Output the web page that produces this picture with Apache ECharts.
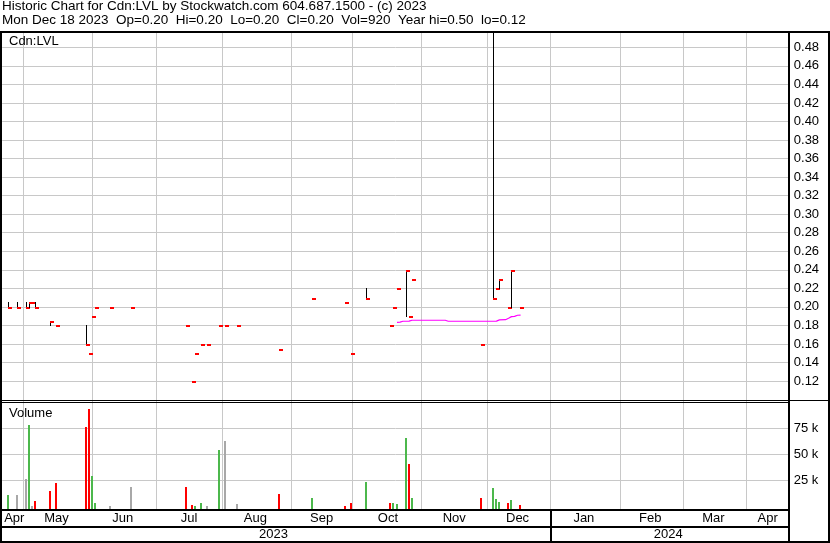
<!DOCTYPE html>
<html>
<head>
<meta charset="utf-8">
<script src="https://cdn.jsdelivr.net/npm/echarts@6/dist/echarts.min.js"></script>
<style>
html,body{margin:0;padding:0;background:#fff;}
#chart{width:830px;height:543px;}
</style>
</head>
<body>
<div id="chart"></div>
<script>
// ---------- data ----------
const titleLine1 = 'Historic Chart for Cdn:LVL by Stockwatch.com 604.687.1500 - (c) 2023';
const titleLine2 = 'Mon Dec 18 2023  Op=0.20  Hi=0.20  Lo=0.20  Cl=0.20  Vol=920  Year hi=0.50  lo=0.12';
const symbolLabel = 'Cdn:LVL';
const volumeLabel = 'Volume';

const axisStart = '2023-04-20';
const axisEnd = '2024-04-19';

const tradeDates = ['2023-04-24','2023-04-27','2023-05-02','2023-05-03','2023-05-04','2023-05-05','2023-05-12','2023-05-16','2023-05-30','2023-05-31',
  '2023-06-01','2023-06-02','2023-06-09','2023-06-20','2023-07-14','2023-07-18','2023-07-19','2023-07-21','2023-07-25','2023-07-31',
  '2023-08-02','2023-08-08','2023-08-28','2023-09-12','2023-09-27','2023-09-29','2023-10-06','2023-10-18','2023-10-19','2023-10-20',
  '2023-10-25','2023-10-26','2023-10-27','2023-11-29','2023-12-05','2023-12-06','2023-12-07','2023-12-12','2023-12-13','2023-12-18'];
const highs = [0.205,0.205,0.205,0.205,0.205,0.205,0.185,0.18,0.18,0.15,
  0.19,0.20,0.20,0.20,0.18,0.12,0.15,0.16,0.16,0.18,
  0.18,0.18,0.155,0.21,0.205,0.15,0.22,0.18,0.20,0.22,
  0.24,0.19,0.23,0.16,0.50,0.22,0.23,0.20,0.24,0.20];
const lows = [0.20,0.20,0.20,0.20,0.205,0.20,0.18,0.18,0.16,0.15,
  0.19,0.20,0.20,0.20,0.18,0.12,0.15,0.16,0.16,0.18,
  0.18,0.18,0.155,0.21,0.205,0.15,0.21,0.18,0.20,0.22,
  0.19,0.19,0.23,0.16,0.21,0.22,0.22,0.20,0.20,0.20];
const closes = [0.20,0.20,0.20,0.205,0.205,0.20,0.185,0.18,0.16,0.15,
  0.19,0.20,0.20,0.20,0.18,0.12,0.15,0.16,0.16,0.18,
  0.18,0.18,0.155,0.21,0.205,0.15,0.21,0.18,0.20,0.22,
  0.24,0.19,0.23,0.16,0.21,0.22,0.23,0.20,0.24,0.20];
const volumes = [10900,10900,26300,78200,600,5100,14700,22400,76300,93600,
  29100,3200,500,18600,18600,1300,500,3200,200,54100,
  62800,2200,11800,8000,300,3200,23400,3200,3200,2200,
  65700,40700,8000,8000,17600,7000,4100,3200,6100,920];
const volDir = ['u','n','n','u','n','d','d','d','d','d',
  'u','u','n','n','d','d','u','u','n','u',
  'n','n','d','u','d','d','u','d','u','u',
  'u','d','u','d','u','u','u','d','u','d'];

const maDates = ['2023-10-20','2023-10-23','2023-10-24','2023-10-26','2023-10-27','2023-11-13','2023-11-14','2023-12-06','2023-12-07','2023-12-11','2023-12-12','2023-12-13','2023-12-14','2023-12-15','2023-12-18'];
const maValues = [0.1834,0.1836,0.1845,0.1846,0.1856,0.1856,0.1845,0.1846,0.1860,0.1862,0.1877,0.1895,0.1898,0.1910,0.1912];

const priceTicks = [0.12,0.14,0.16,0.18,0.20,0.22,0.24,0.26,0.28,0.30,0.32,0.34,0.36,0.38,0.40,0.42,0.44,0.46,0.48];
const volumeTicks = [25000,50000,75000];
const monthGridDates = ['2023-05-01','2023-06-01','2023-06-30','2023-08-01','2023-09-01','2023-09-29','2023-11-01','2023-12-01','2024-01-01','2024-02-01','2024-03-01','2024-04-01'];
const monthLabels = ['Apr','May','Jun','Jul','Aug','Sep','Oct','Nov','Dec','Jan','Feb','Mar','Apr'];
const monthLabelDates = ['2023-04-26','2023-05-16','2023-06-15','2023-07-17','2023-08-16','2023-09-15','2023-10-17','2023-11-16','2023-12-15','2024-01-16','2024-02-15','2024-03-15','2024-04-10'];
const yearLabels = ['2023','2024'];
const yearLabelDates = ['2023-08-24','2024-02-23'];
const yearBreakDates = ['2024-01-01'];

// ---------- helpers ----------
function weekdayList(a, b) {
  const out = [];
  let d = new Date(a + 'T00:00:00Z');
  const e = new Date(b + 'T00:00:00Z');
  while (d <= e) {
    const w = d.getUTCDay();
    if (w !== 0 && w !== 6) out.push(d.toISOString().slice(0, 10));
    d = new Date(d.getTime() + 86400000);
  }
  return out;
}
const categories = weekdayList(axisStart, axisEnd);

const FONT = 'Liberation Sans, Arial, sans-serif';
const GRID_COLOR = '#c8c8c8';
const volColors = {u: '#4cb84c', d: '#ff0000', n: '#a8a8a8'};

function renderPrice(params, api) {
  const i = api.value(0);
  const pHi = api.coord([i, api.value(1)]);
  const pLo = api.coord([i, api.value(2)]);
  const pCl = api.coord([i, api.value(3)]);
  const col = Math.floor(pCl[0]);
  const children = [];
  const yh = Math.round(pHi[1]), yl = Math.round(pLo[1]);
  if (yl - yh >= 1) {
    children.push({type: 'rect', shape: {x: col, y: yh, width: 1, height: yl - yh + 1}, style: {fill: '#000'}});
  }
  children.push({type: 'rect', shape: {x: col, y: Math.round(pCl[1]), width: 4, height: 2}, style: {fill: '#ff0000'}});
  return {type: 'group', children};
}

function renderVolume(params, api) {
  const i = api.value(0);
  const top = api.coord([i, api.value(1)]);
  const col = Math.floor(top[0]);
  const bottom = params.coordSys.y + params.coordSys.height;
  const y = Math.round(top[1]);
  return {type: 'rect', shape: {x: col - 1, y: y, width: 2, height: bottom - y},
          style: {fill: volColors[volDir[params.dataIndex]]}};
}

const GL = 2.2, GW = 786.6;
const baseX = {type: 'category', data: categories, boundaryGap: false,
  axisLine: {show: false}, axisTick: {show: false}};

const chart = echarts.init(document.getElementById('chart'), null, {renderer: 'canvas'});
chart.setOption({
  animation: false,
  backgroundColor: '#ffffff',
  grid: [
    {left: GL, top: 32, width: GW, height: 369, containLabel: false, outerBoundsMode: 'none', show: false},
    {left: GL, top: 401, width: GW, height: 109, containLabel: false, outerBoundsMode: 'none', show: false},
    {left: GL, top: 510, width: GW, height: 32, containLabel: false, outerBoundsMode: 'none', show: false}
  ],
  xAxis: [
    Object.assign({}, baseX, {gridIndex: 0, axisLabel: {show: false},
      splitLine: {show: true, interval: (i, v) => monthGridDates.includes(v), lineStyle: {color: GRID_COLOR, width: 1}}}),
    Object.assign({}, baseX, {gridIndex: 1,
      axisLabel: {show: true, interval: (i, v) => monthLabelDates.includes(v),
        formatter: v => monthLabels[monthLabelDates.indexOf(v)], margin: 2,
        fontSize: 13, color: '#000', fontFamily: FONT},
      splitLine: {show: true, interval: (i, v) => monthGridDates.includes(v), lineStyle: {color: GRID_COLOR, width: 1}}}),
    Object.assign({}, baseX, {gridIndex: 2,
      axisLabel: {show: true, inside: true, interval: (i, v) => yearLabelDates.includes(v),
        formatter: v => yearLabels[yearLabelDates.indexOf(v)], margin: 1,
        fontSize: 13, color: '#000', fontFamily: FONT},
      splitLine: {show: true, interval: (i, v) => yearBreakDates.includes(v), lineStyle: {color: '#000', width: 2}}})
  ],
  yAxis: [
    {gridIndex: 0, type: 'value', position: 'right', min: 0.0985, max: 0.4965,
      axisLine: {show: false}, axisTick: {show: false, customValues: priceTicks},
      axisLabel: {customValues: priceTicks, formatter: v => v.toFixed(2), margin: 5,
        fontSize: 13, color: '#000', fontFamily: FONT},
      splitLine: {show: true, lineStyle: {color: GRID_COLOR, width: 1}}},
    {gridIndex: 1, type: 'value', position: 'right', min: -3560, max: 101250,
      axisLine: {show: false}, axisTick: {show: false, customValues: volumeTicks},
      axisLabel: {customValues: volumeTicks, formatter: v => (v / 1000) + ' k', margin: 5,
        fontSize: 13, color: '#000', fontFamily: FONT},
      splitLine: {show: true, lineStyle: {color: GRID_COLOR, width: 1}}},
    {gridIndex: 2, type: 'value', show: false, min: 0, max: 1}
  ],
  series: [
    {type: 'custom', name: 'price', xAxisIndex: 0, yAxisIndex: 0, clip: true,
      renderItem: renderPrice, encode: {x: 0, y: [1, 2, 3]},
      data: tradeDates.map((d, i) => [d, highs[i], lows[i], closes[i]])},
    {type: 'line', name: 'avg', xAxisIndex: 0, yAxisIndex: 0, symbol: 'none',
      lineStyle: {color: '#ff00ff', width: 1.2}, z: 3,
      data: maDates.map((d, i) => [d, maValues[i]])},
    {type: 'custom', name: 'volume', xAxisIndex: 1, yAxisIndex: 1, clip: true,
      renderItem: renderVolume, encode: {x: 0, y: 1},
      data: tradeDates.map((d, i) => [d, volumes[i]])}
  ],
  graphic: {elements: [
    {type: 'text', left: 2, top: -1, z: 100, style: {text: titleLine1, font: '13.5px ' + FONT, fill: '#000'}},
    {type: 'text', left: 2, top: 13, z: 100, style: {text: titleLine2, font: '13.5px ' + FONT, fill: '#000'}},
    {type: 'text', left: 9, top: 35, z: 100, style: {text: symbolLabel, font: '13px ' + FONT, fill: '#000'}},
    {type: 'text', left: 9, top: 407, z: 100, style: {text: volumeLabel, font: '13px ' + FONT, fill: '#000'}},
    // frame
    {type: 'rect', z: 100, shape: {x: 0, y: 31, width: 830, height: 2}, style: {fill: '#000'}},
    {type: 'rect', z: 100, shape: {x: 0, y: 31, width: 2, height: 512}, style: {fill: '#000'}},
    {type: 'rect', z: 100, shape: {x: 788, y: 31, width: 2, height: 512}, style: {fill: '#000'}},
    {type: 'rect', z: 100, shape: {x: 828, y: 31, width: 2, height: 512}, style: {fill: '#000'}},
    {type: 'rect', z: 100, shape: {x: 0, y: 400, width: 830, height: 1}, style: {fill: '#000'}},
    {type: 'rect', z: 100, shape: {x: 0, y: 402, width: 790, height: 1}, style: {fill: '#000'}},
    {type: 'rect', z: 100, shape: {x: 0, y: 509, width: 790, height: 2}, style: {fill: '#000'}},
    {type: 'rect', z: 100, shape: {x: 0, y: 526, width: 790, height: 2}, style: {fill: '#000'}},
    {type: 'rect', z: 100, shape: {x: 0, y: 541, width: 830, height: 2}, style: {fill: '#000'}}
  ]}
});
</script>
</body>
</html>
